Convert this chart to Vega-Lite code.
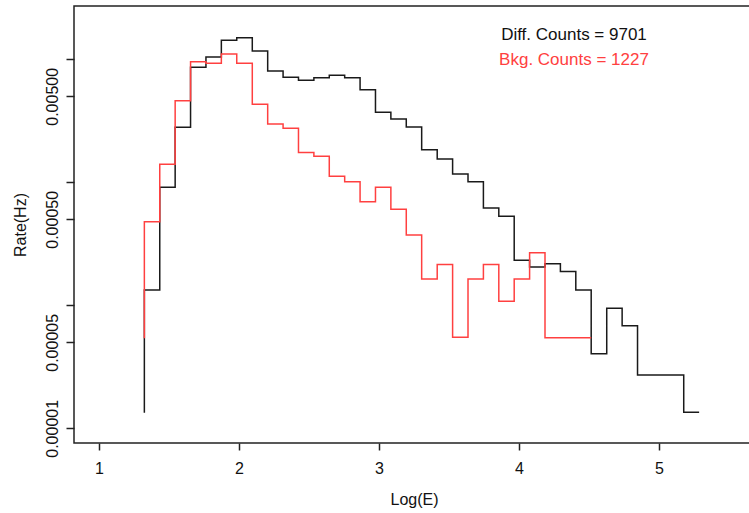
{
  "$schema": "https://vega.github.io/schema/vega-lite/v6.json",
  "autosize": "none",
  "width": 680,
  "height": 437,
  "padding": {"left": 74, "top": 6, "right": 0, "bottom": 70},
  "background": "white",
  "config": {
    "view": {"stroke": "#222", "strokeWidth": 1.5},
    "font": "Liberation Sans",
    "axis": {"grid": false, "domain": false, "tickColor": "#222", "tickWidth": 1.5, "labelColor": "#111", "titleColor": "#111", "labelFont": "Liberation Sans", "titleFont": "Liberation Sans", "labelFontSize": 16, "titleFontSize": 16, "titleFontWeight": "normal", "labelOverlap": false, "labelFlush": false, "labelBound": false}
  },
  "datasets": {
    "hist": [
      {"series": "Diff", "x": 1.324, "rate": 0.0000134},
      {"series": "Diff", "x": 1.434, "rate": 0.0001331},
      {"series": "Diff", "x": 1.544, "rate": 0.000911},
      {"series": "Diff", "x": 1.654, "rate": 0.00280},
      {"series": "Diff", "x": 1.764, "rate": 0.00861},
      {"series": "Diff", "x": 1.874, "rate": 0.01044},
      {"series": "Diff", "x": 1.984, "rate": 0.01427},
      {"series": "Diff", "x": 2.095, "rate": 0.01498},
      {"series": "Diff", "x": 2.205, "rate": 0.01168},
      {"series": "Diff", "x": 2.315, "rate": 0.00803},
      {"series": "Diff", "x": 2.425, "rate": 0.00714},
      {"series": "Diff", "x": 2.535, "rate": 0.00675},
      {"series": "Diff", "x": 2.645, "rate": 0.00709},
      {"series": "Diff", "x": 2.755, "rate": 0.00741},
      {"series": "Diff", "x": 2.865, "rate": 0.00709},
      {"series": "Diff", "x": 2.975, "rate": 0.00566},
      {"series": "Diff", "x": 3.085, "rate": 0.00371},
      {"series": "Diff", "x": 3.195, "rate": 0.00327},
      {"series": "Diff", "x": 3.305, "rate": 0.00282},
      {"series": "Diff", "x": 3.416, "rate": 0.00184},
      {"series": "Diff", "x": 3.526, "rate": 0.00155},
      {"series": "Diff", "x": 3.636, "rate": 0.00117},
      {"series": "Diff", "x": 3.746, "rate": 0.00101},
      {"series": "Diff", "x": 3.856, "rate": 0.000618},
      {"series": "Diff", "x": 3.966, "rate": 0.000529},
      {"series": "Diff", "x": 4.076, "rate": 0.000232},
      {"series": "Diff", "x": 4.186, "rate": 0.000205},
      {"series": "Diff", "x": 4.296, "rate": 0.000218},
      {"series": "Diff", "x": 4.406, "rate": 0.000188},
      {"series": "Diff", "x": 4.516, "rate": 0.0001331},
      {"series": "Diff", "x": 4.627, "rate": 0.0000404},
      {"series": "Diff", "x": 4.737, "rate": 0.0000945},
      {"series": "Diff", "x": 4.847, "rate": 0.0000683},
      {"series": "Diff", "x": 4.957, "rate": 0.0000271},
      {"series": "Diff", "x": 5.067, "rate": 0.0000271},
      {"series": "Diff", "x": 5.177, "rate": 0.0000271},
      {"series": "Diff", "x": 5.287, "rate": 0.0000135},
      {"series": "Bkg", "x": 1.324, "rate": 0.0000539},
      {"series": "Bkg", "x": 1.434, "rate": 0.000478},
      {"series": "Bkg", "x": 1.544, "rate": 0.00140},
      {"series": "Bkg", "x": 1.654, "rate": 0.00461},
      {"series": "Bkg", "x": 1.764, "rate": 0.00956},
      {"series": "Bkg", "x": 1.874, "rate": 0.00928},
      {"series": "Bkg", "x": 1.984, "rate": 0.01104},
      {"series": "Bkg", "x": 2.095, "rate": 0.00928},
      {"series": "Bkg", "x": 2.205, "rate": 0.00431},
      {"series": "Bkg", "x": 2.315, "rate": 0.00298},
      {"series": "Bkg", "x": 2.425, "rate": 0.00275},
      {"series": "Bkg", "x": 2.535, "rate": 0.00175},
      {"series": "Bkg", "x": 2.645, "rate": 0.00163},
      {"series": "Bkg", "x": 2.755, "rate": 0.00112},
      {"series": "Bkg", "x": 2.865, "rate": 0.00101},
      {"series": "Bkg", "x": 2.975, "rate": 0.000696},
      {"series": "Bkg", "x": 3.085, "rate": 0.000911},
      {"series": "Bkg", "x": 3.195, "rate": 0.000603},
      {"series": "Bkg", "x": 3.305, "rate": 0.000373},
      {"series": "Bkg", "x": 3.416, "rate": 0.000164},
      {"series": "Bkg", "x": 3.526, "rate": 0.000215},
      {"series": "Bkg", "x": 3.636, "rate": 0.0000549},
      {"series": "Bkg", "x": 3.746, "rate": 0.000164},
      {"series": "Bkg", "x": 3.856, "rate": 0.000215},
      {"series": "Bkg", "x": 3.966, "rate": 0.000108},
      {"series": "Bkg", "x": 4.076, "rate": 0.000164},
      {"series": "Bkg", "x": 4.186, "rate": 0.000268},
      {"series": "Bkg", "x": 4.296, "rate": 0.0000545},
      {"series": "Bkg", "x": 4.406, "rate": 0.0000545},
      {"series": "Bkg", "x": 4.516, "rate": 0.0000545}
    ],
    "notes": [
      {"label": "Diff. Counts = 9701", "x": 4.393, "rate": 0.01576, "series": "Diff"},
      {"label": "Bkg. Counts = 1227", "x": 4.393, "rate": 0.00986, "series": "Bkg"}
    ]
  },
  "encoding": {
    "x": {"field": "x", "type": "quantitative",
      "scale": {"domain": [0.8214, 5.679], "nice": false, "zero": false},
      "axis": {"values": [1, 2, 3, 4, 5], "format": "d", "title": "Log(E)", "tickSize": 7, "labelPadding": 10, "titlePadding": 15}},
    "y": {"field": "rate", "type": "quantitative",
      "scale": {"type": "log", "domain": [0.000007595, 0.02712], "nice": false},
      "axis": {"values": [0.00001, 0.00005, 0.0001, 0.0005, 0.001, 0.005, 0.01],
        "labelExpr": "indexof([0.00001, 0.00005, 0.0005, 0.005], datum.value) >= 0 ? format(datum.value, '.5f') : ''",
        "title": "Rate(Hz)", "tickSize": 8, "labelAngle": -90, "labelAlign": "center", "labelBaseline": "alphabetic", "labelPadding": 9, "titlePadding": 16}}
  },
  "layer": [
    {
      "data": {"name": "hist"},
      "transform": [{"filter": "datum.series === 'Diff'"}],
      "mark": {"type": "line", "interpolate": "step-before", "color": "#1a1a1a", "strokeWidth": 1.5},
      "encoding": {"order": {"field": "x", "type": "quantitative"}}
    },
    {
      "data": {"name": "hist"},
      "transform": [{"filter": "datum.series === 'Bkg'"}],
      "mark": {"type": "line", "interpolate": "step-before", "color": "#ff4040", "strokeWidth": 1.5},
      "encoding": {"order": {"field": "x", "type": "quantitative"}}
    },
    {
      "data": {"name": "notes"},
      "mark": {"type": "text", "align": "center", "baseline": "middle", "fontSize": 17, "font": "Liberation Sans"},
      "encoding": {
        "text": {"field": "label"},
        "color": {"field": "series", "type": "nominal", "scale": {"domain": ["Diff", "Bkg"], "range": ["#111111", "#ff4040"]}, "legend": null}
      }
    }
  ]
}
